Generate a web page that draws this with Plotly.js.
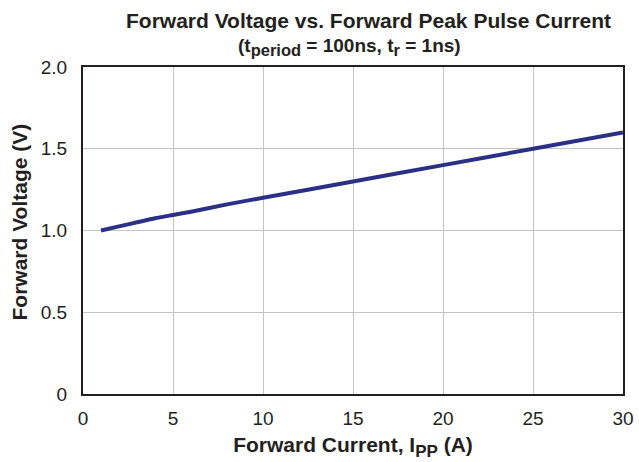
<!DOCTYPE html>
<html>
<head>
<meta charset="utf-8">
<script src="https://cdn.plot.ly/plotly-3.0.1.min.js"></script>
<style>html,body{margin:0;padding:0;background:#fff;}#chart{width:639px;height:462px;}</style>
</head>
<body>
<div id="chart"></div>
<script>
var current = [1, 2, 3, 4, 5, 6, 8, 10, 15, 20, 25, 30];
var voltage = [1.0, 1.025, 1.05, 1.075, 1.095, 1.115, 1.16, 1.2, 1.3, 1.4, 1.5, 1.6];
var xTicks = [0, 5, 10, 15, 20, 25, 30];
var xTickLabels = ["0", "5", "10", "15", "20", "25", "30"];
var yTicks = [0, 0.5, 1.0, 1.5, 2.0];
var yTickLabels = ["0", "0.5", "1.0", "1.5", "2.0"];

var ink = "#231f20";
var trace = {
  x: current, y: voltage, type: "scatter", mode: "lines",
  line: {color: "#2b3087", width: 4, shape: "spline", smoothing: 0.6},
  hoverinfo: "none"
};
var layout = {
  width: 639, height: 462,
  margin: {l: 83, r: 16, t: 67, b: 68},
  paper_bgcolor: "#fff", plot_bgcolor: "#fff",
  font: {family: "Liberation Sans, Arial, sans-serif", color: ink, size: 19},
  showlegend: false,
  xaxis: {
    range: [0, 30], tickvals: xTicks, ticktext: xTickLabels,
    showgrid: true, gridcolor: "#c4c4c4", gridwidth: 1,
    zeroline: false, showline: true, mirror: true, linecolor: ink, linewidth: 2,
    ticks: "outside", ticklen: 6, tickcolor: "rgba(0,0,0,0)", tickfont: {size: 19, color: ink},
    title: {text: "<b>Forward Current, I<sub><span style=\"font-size:17px\">PP</span></sub> (A)</b>", font: {size: 21, color: ink}, standoff: 10}
  },
  yaxis: {
    range: [0, 2], tickvals: yTicks, ticktext: yTickLabels,
    showgrid: true, gridcolor: "#c4c4c4", gridwidth: 1,
    zeroline: false, showline: true, mirror: true, linecolor: ink, linewidth: 2,
    ticks: "outside", ticklen: 10, tickcolor: "rgba(0,0,0,0)", tickfont: {size: 19, color: ink}
  },
  annotations: [
    {text: "<b>Forward Voltage vs. Forward Peak Pulse Current</b>", xref: "paper", yref: "paper",
     x: 0.528, y: 1, yshift: 47, showarrow: false, xanchor: "center", yanchor: "middle",
     font: {size: 21, color: ink}},
    {text: "<b>(t<sub><span style=\"font-size:16.5px\">period</span></sub> = 100ns, t<sub><span style=\"font-size:16.5px\">r</span></sub> = 1ns)</b>", xref: "paper", yref: "paper",
     x: 0.493, y: 1, yshift: 20, showarrow: false, xanchor: "center", yanchor: "middle",
     font: {size: 19, color: ink}},
    {text: "<b>Forward Voltage (V)</b>", xref: "paper", yref: "paper",
     x: 0, xshift: -64, y: 0.5, yshift: 8, textangle: -90, showarrow: false,
     xanchor: "center", yanchor: "middle", font: {size: 21, color: ink}}
  ]
};
Plotly.newPlot("chart", [trace], layout, {displayModeBar: false, staticPlot: true});
</script>
</body>
</html>
